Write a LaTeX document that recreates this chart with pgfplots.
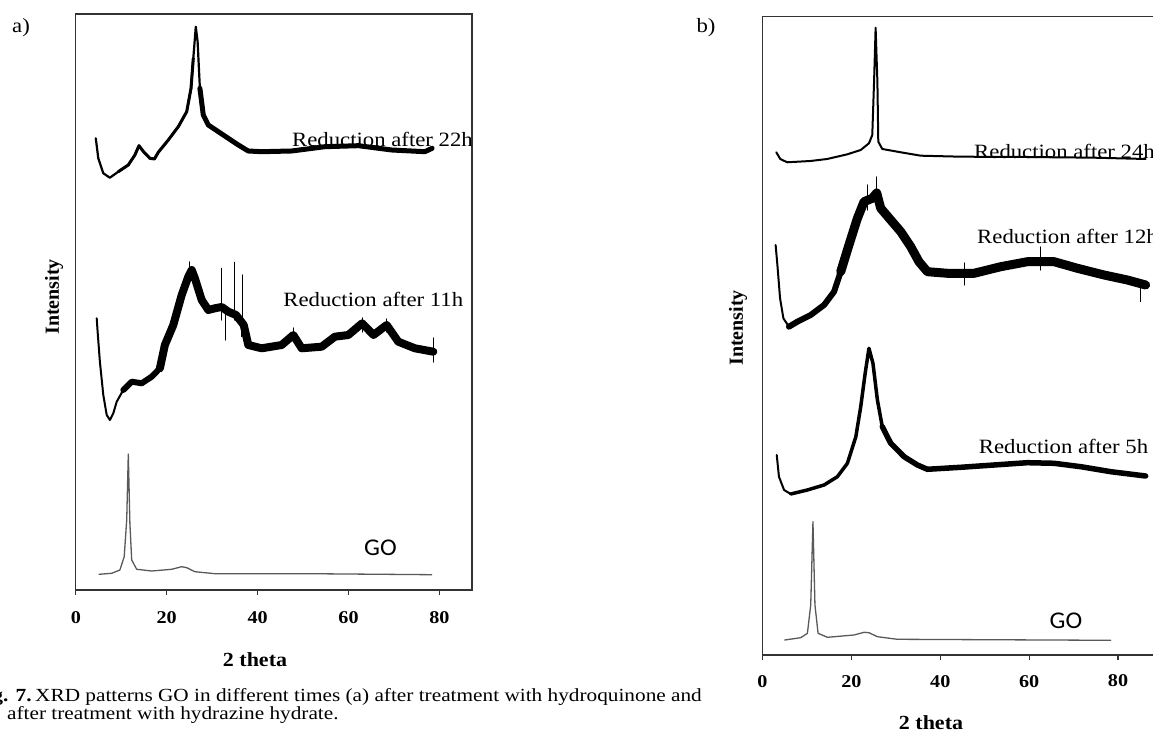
\documentclass[border=0pt]{standalone}
\usepackage{pgfplots}
\pgfplotsset{compat=1.18}
\usepackage{pgfplotstable}
\usepackage{graphicx}
\usepackage{fontspec}
\setmainfont{Liberation Serif}
\newfontfamily\calib{Carlito}

\newcommand{\tl}[1]{\scalebox{1.12}[1]{\fontsize{18}{20}\selectfont\bfseries #1}}
\newcommand{\lab}[1]{\scalebox{1.12}[1]{\fontsize{20.3}{23}\selectfont #1}}

% ---------- panel a ----------
\pgfplotstableread{
x y
4.4 451.7
4.95 431.7
6.05 416.7
7.5 412.3
9.35 418.3
11.55 425
13.0 435
13.9 444.3
14.9 438.3
16.3 431.7
17.3 431
18.15 437.7
20.35 450
22.55 463.3
24.4 478.3
25.35 501.7
25.85 531.7
26.4 563.3
26.8 548.3
27.3 501.7
28.05 475
29.15 465
31.35 458.3
33.55 451.7
35.75 445
37.95 439
40.9 438.3
47.5 439
54.8 443.3
62.2 444.3
69.5 440
76.8 438.3
78.4 441.7
}\atwentytwo

\pgfplotstableread{
x y
4.6 271.7
4.8 258.3
5.3 228.3
6.05 195
6.8 175
7.5 170
8.25 176.7
9.0 188.3
10.45 200
12.3 208.3
14.5 206.7
16.7 213.3
18.5 221.7
19.6 245
21.45 265
23.3 295
24.75 313.3
25.5 320
26.2 311.7
27.7 290
29.15 280
30.6 281.7
32.1 283
33.55 278.3
35.25 275
36.95 265
37.95 245
40.9 241.7
45.3 245
47.85 255
49.7 241.7
54.1 243.3
57.0 253.3
59.95 255
63.0 266.7
65.5 255
68.4 265
70.95 248.3
74.6 241.7
78.65 238.3
}\aeleven

\pgfplotstableread{
x y
32.1 270
32.1 321.7
nan nan
33.0 280
33.0 250
nan nan
34.9 270
34.9 327.7
nan nan
36.4 268
36.4 253.3
nan nan
36.65 262
36.65 315
nan nan
25.0 310
25.0 328
nan nan
47.85 250
47.85 262
nan nan
63.0 258
63.0 272
nan nan
68.4 258
68.4 271
nan nan
78.65 228
78.65 252
}\aelevenspikes

\pgfplotstableread{
x y
5.1 15.7
7.9 16.7
9.7 20
10.65 33.3
11.2 70
11.55 136
11.9 66.7
12.3 30
13.4 20.7
16.7 19
21.1 20.7
23.3 23.3
24.4 22.3
26.2 18.3
30.6 16.3
51.2 16.3
78.3 15.3
}\aGO

% ---------- panel b ----------
\pgfplotstableread{
x y
3.1 502.7
4.0 496
5.55 492.7
10.8 494
14.55 496
19.1 500.7
22.1 505
23.95 511.7
24.7 520
25.1 573.3
25.45 627.3
25.85 573.3
26.05 513.3
26.95 506
31.1 502.7
35.6 499.3
44.6 498.3
59.6 498
74.6 497.3
86.2 496
}\btwentyfour

\pgfplotstableread{
x y
2.95 410
3.35 390
3.95 356.7
4.7 336.7
5.95 328.3
7.85 333.3
10.85 340
13.85 350
16.1 363.3
17.6 383.3
19.45 410
21.35 436.7
22.85 453.3
24.7 456.7
25.7 462
26.6 446.7
28.85 435
31.1 423.3
33.35 408.3
35.2 393.3
37.1 383.3
41.6 381.7
47.6 381.7
53.6 388.3
59.6 393.3
65.6 393.3
70.85 386.7
76.85 380
82.1 375
86.2 370
}\btwelve

\pgfplotstableread{
x y
23.7 445
23.7 470
nan nan
25.7 450
25.7 478
nan nan
21.2 425
21.2 445
nan nan
85.1 353.3
85.1 372
nan nan
62.5 385
62.5 408
nan nan
45.5 370
45.5 392
}\btwelvespikes

\pgfplotstableread{
x y
3.2 200
3.7 178.3
4.85 165
6.35 161
10.1 165
13.85 170
16.85 178.3
19.1 191.7
21.0 218.3
22.1 248.3
23.1 281.7
23.95 306.7
24.85 291.7
25.85 255
26.95 228.3
28.85 211.7
31.85 198.3
34.85 190
37.1 185.7
44.6 187.7
52.1 190
59.6 192.3
65.6 191.7
71.6 188.3
78.35 183.3
86.2 179
}\bfive

\pgfplotstableread{
x y
5.0 15
8.6 17.3
10.1 21.7
10.85 50
11.35 133.3
11.8 50
12.5 21.7
14.6 17.7
20.6 20
22.85 22.7
23.95 22.3
25.85 18.3
30.35 15.7
78.35 14.7
}\bGO

\pgfplotsset{
  xrd/.style={
    anchor=south west, scale only axis,
    ymin=0,
    xtick={0,20,40,60,80},
    ytick=\empty,
    xtick align=outside, xtick pos=bottom,
    major tick length=5pt,
    tick style={line width=1.2pt, black!80},
    axis line style={line width=1.3pt, black!80},
    xticklabel style={anchor=center},
    every axis plot/.append style={line join=round, line cap=round},
    unbounded coords=jump,
  },
}

\begin{document}
\begin{tikzpicture}[x=1pt,y=1pt]
\useasboundingbox (0,0) rectangle (1153,733);
\clip (0,0) rectangle (1153,733);

% ---------------- panel a ----------------
\begin{axis}[xrd,
  at={(75.8pt,143pt)}, width=396.2pt, height=576pt,
  xmin=0, xmax=87.17, ymax=576,
  xticklabels={\tl{0},\tl{20},\tl{40},\tl{60},\tl{80}},
  xticklabel style={yshift=-23pt},
]
\addplot[black, line width=2.2pt] table {\atwentytwo};
\addplot[black, line width=3pt, restrict x to domain=9:26] table {\atwentytwo};
\addplot[black, line width=5pt, restrict x to domain=27:80] table {\atwentytwo};
\addplot[black, line width=2pt] table {\aeleven};
\addplot[black, line width=6pt, restrict x to domain=9.5:20] table {\aeleven};
\addplot[black, line width=8pt, restrict x to domain=18:80] table {\aeleven};
\addplot[black, line width=1.1pt] table {\aelevenspikes};
\addplot[black!65, line width=1.3pt] table {\aGO};
\end{axis}

% ---------------- panel b ----------------
\begin{axis}[xrd,
  at={(762.5pt,78pt)}, width=400pt, height=638.5pt,
  xmin=0, xmax=90, ymax=638.5,
  xticklabels={\tl{0},\tl{20},\tl{40},\tl{60},\raisebox{3pt}{\tl{80}}},
  xticklabel style={yshift=-22pt},
]
\addplot[black, line width=2pt] table {\btwentyfour};
\addplot[black, line width=2pt] table {\btwelve};
\addplot[black, line width=6pt, restrict x to domain=5:20] table {\btwelve};
\addplot[black, line width=9pt, restrict x to domain=17:87] table {\btwelve};
\addplot[black, line width=1.1pt] table {\btwelvespikes};
\addplot[black, line width=2pt] table {\bfive};
\addplot[black, line width=3.5pt, restrict x to domain=5:29] table {\bfive};
\addplot[black, line width=5.5pt, restrict x to domain=26.5:87] table {\bfive};
\addplot[black!65, line width=1.3pt] table {\bGO};
\end{axis}

% ---------------- labels ----------------
\node[anchor=center] at (21,705) {\lab{a)}};
\node[anchor=center] at (706,705) {\lab{b)}};

\node[anchor=center, rotate=90] at (54,436) {\fontsize{20}{22}\selectfont\bfseries Intensity};
\node[anchor=center, rotate=90] at (738,405) {\fontsize{20}{22}\selectfont\bfseries Intensity};

\node[anchor=center] at (255,73) {\scalebox{1.1}[1]{\fontsize{20}{22}\selectfont\bfseries 2 theta}};
\node[anchor=center] at (931,10.5) {\scalebox{1.1}[1]{\fontsize{20}{22}\selectfont\bfseries 2 theta}};

\node[anchor=base east, inner sep=0pt] at (473,586.3) {\lab{Reduction after 22h}};
\node[anchor=base east, inner sep=0pt] at (463.3,426.3) {\lab{Reduction after 11h}};
\node[anchor=center] at (380.5,185) {\scalebox{1.05}[1]{\calib\fontsize{24}{26}\selectfont GO}};

\node[anchor=base east, inner sep=0pt] at (1155,574) {\lab{Reduction after 24h}};
\node[anchor=base east, inner sep=0pt] at (1158,489.7) {\lab{Reduction after 12h}};
\node[anchor=base east, inner sep=0pt] at (1148.3,279.7) {\lab{Reduction after 5h}};
\node[anchor=center] at (1066,112.5) {\scalebox{1.05}[1]{\calib\fontsize{24}{26}\selectfont GO}};

% caption
\node[anchor=base east, inner sep=0pt] at (32,31) {\scalebox{1.16}[1]{\fontsize{18.5}{20}\selectfont\bfseries Fig. 7.}};
\node[anchor=base west, inner sep=0pt] at (35,31) {\scalebox{1.15}[1]{\fontsize{18.5}{20}\selectfont XRD patterns GO in different times (a) after treatment with hydroquinone and}};
\node[anchor=base west, inner sep=0pt] at (7,13) {\scalebox{1.15}[1]{\fontsize{18.5}{20}\selectfont after treatment with hydrazine hydrate.}};
\end{tikzpicture}
\end{document}
